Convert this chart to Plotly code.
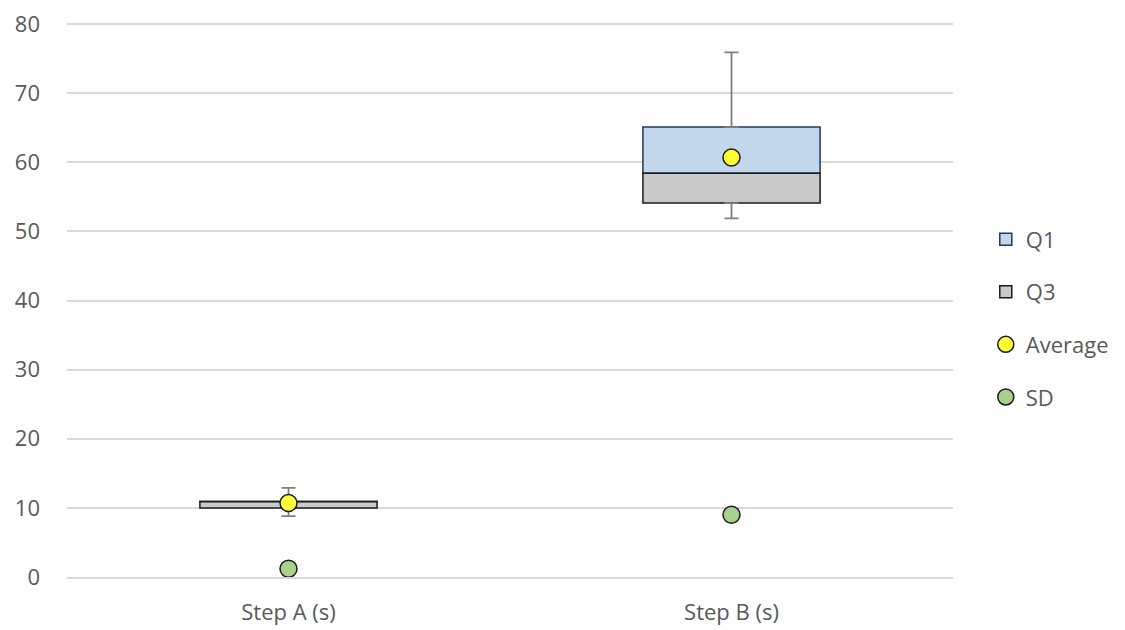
import plotly.graph_objects as go

categories = ["Step A (s)", "Step B (s)"]
box_low = [10.0, 54.1]      # bottom of box
box_mid = [10.9, 58.4]      # boundary between grey and blue
box_high = [10.95, 65.1]    # top of box
whisker_min = [8.8, 51.9]
whisker_max = [12.9, 75.9]
average = [10.7, 60.7]
sd = [1.2, 9.0]

q3_size = [m - l for m, l in zip(box_mid, box_low)]
q1_size = [h - m for h, m in zip(box_high, box_mid)]
up_err = [mx - h for mx, h in zip(whisker_max, box_high)]
down_err = [l - mn for l, mn in zip(box_low, whisker_min)]

FONT = "Open Sans"
TXT = "#595959"
WHISK = "#7F7F7F"

fig = go.Figure()

# whiskers (behind boxes)
fig.add_trace(go.Scatter(
    x=categories, y=box_high, mode="markers",
    marker=dict(size=1, opacity=0), showlegend=False, hoverinfo="skip",
    error_y=dict(type="data", symmetric=False, array=up_err, arrayminus=[0, 0],
                 color=WHISK, thickness=1.8, width=7)))
fig.add_trace(go.Scatter(
    x=categories, y=box_low, mode="markers",
    marker=dict(size=1, opacity=0), showlegend=False, hoverinfo="skip",
    error_y=dict(type="data", symmetric=False, array=[0, 0], arrayminus=down_err,
                 color=WHISK, thickness=1.8, width=7)))

fig.add_trace(go.Bar(
    x=categories, y=q1_size, base=box_mid, name="Q1", legendgroup="a",
    marker=dict(color="#C2D6EC", line=dict(color="#203864", width=1.5)),
    width=0.4))
fig.add_trace(go.Bar(
    x=categories, y=q3_size, base=box_low, name="Q3", legendgroup="b",
    marker=dict(color="#C9C9C9", line=dict(color="#1A1A1A", width=1.5)),
    width=0.4))
fig.add_trace(go.Scatter(
    x=categories, y=average, mode="markers", name="Average", legendgroup="c",
    marker=dict(size=17, color="#FFFF33", line=dict(color="#1A1A1A", width=1.5))))
fig.add_trace(go.Scatter(
    x=categories, y=sd, mode="markers", name="SD", legendgroup="d",
    marker=dict(size=17, color="#A9D18E", line=dict(color="#1A1A1A", width=1.5))))

fig.update_layout(
    width=1125, height=630,
    margin=dict(l=59, r=180, t=14, b=61, autoexpand=False),
    paper_bgcolor="white", plot_bgcolor="white",
    barmode="overlay",
    font=dict(family=FONT, size=22, color=TXT),
    legend=dict(x=1.037, xanchor="left", y=0.466, yanchor="middle",
                itemwidth=30, tracegroupgap=21, traceorder="grouped",
                font=dict(family=FONT, size=22, color=TXT),
                bgcolor="rgba(0,0,0,0)", borderwidth=0),
    xaxis=dict(range=[-0.5, 1.5], showgrid=False, showline=True, automargin=False,
               linecolor="#D9D9D9", linewidth=1.5, ticks="",
               ticklabelstandoff=15, tickfont=dict(family=FONT, size=22, color=TXT)),
    yaxis=dict(range=[0, 80.3], tick0=0, dtick=10, showgrid=True, automargin=False,
               gridcolor="#D9D9D9", gridwidth=1.5, zeroline=False,
               ticks="", ticklabelstandoff=26, ticklabeloverflow="allow",
               tickfont=dict(family=FONT, size=22, color=TXT)),
)

fig.write_html("out.html")
